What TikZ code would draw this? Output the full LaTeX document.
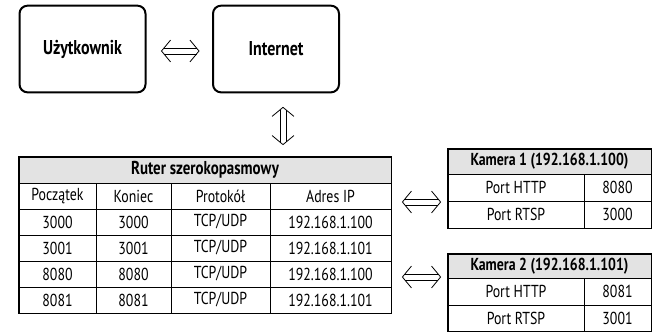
\documentclass[tikz,border=0pt]{standalone}
\usepackage{fontspec}
\setmainfont{PT Sans}[FakeStretch=0.8]
\usetikzlibrary{calc}
\newlength\arrA \setlength\arrA{6.8pt}
\newlength\arrB \setlength\arrB{8.2pt}
\newlength\arrH \setlength\arrH{2.2pt}
\newlength\arrC \setlength\arrC{1.8pt}
\newcommand\dblarrow[2]{%
  \draw[arrline] ($(#1)!\arrA!(#2)!\arrB!90:(#2)$) -- (#1) -- ($(#1)!\arrA!(#2)!\arrB!-90:(#2)$);
  \draw[arrline] ($(#2)!\arrA!(#1)!\arrB!90:(#1)$) -- (#2) -- ($(#2)!\arrA!(#1)!\arrB!-90:(#1)$);
  \draw[arrline] ($(#1)!\arrC!(#2)!\arrH!90:(#2)$) -- ($(#2)!\arrC!(#1)!\arrH!-90:(#1)$);
  \draw[arrline] ($(#1)!\arrC!(#2)!\arrH!-90:(#2)$) -- ($(#2)!\arrC!(#1)!\arrH!90:(#1)$);
}
\tikzset{
  arrline/.style={line width=0.6pt, line join=miter},
  bigbox/.style={draw, line width=1.5pt, rounded corners=6pt, minimum width=94.5pt, minimum height=65pt, inner sep=0pt, font=\bfseries\fontsize{15}{17}\selectfont},
  cell/.style={draw, line width=0.6pt, inner sep=0pt, font=\fontsize{13}{15}\selectfont},
  hcell/.style={cell, fill=black!11, font=\bfseries\fontsize{13}{15}\selectfont},
  outer/.style={line width=1.3pt},
}
\begin{document}
\begin{tikzpicture}[x=0.75pt,y=-0.75pt]
\useasboundingbox (0,0) rectangle (652,333);
% top boxes
\node[bigbox] (user) at (82.5,49) {Użytkownik};
\node[bigbox] (internet) at (276,49) {Internet};
% router table
\node[hcell, minimum width=279pt, minimum height=19.5pt, font=\bfseries\fontsize{14}{16}\selectfont] (rh) at (205,170) {Ruter szerokopasmowy};
\foreach \r/\y/\a/\b/\c/\d in {0/196/Początek/Koniec/Protokół/Adres IP,
  1/222/3000/3000/TCP\slash UDP/192.168.1.100,
  2/248/3001/3001/TCP\slash UDP/192.168.1.101,
  3/274/8080/8080/TCP\slash UDP/192.168.1.100,
  4/300/8081/8081/TCP\slash UDP/192.168.1.101}{
  \node[cell, minimum width=57.75pt, minimum height=19.5pt] (r\r a) at (57.5,\y) {\a};
  \node[cell, minimum width=56.25pt, minimum height=19.5pt] (r\r b) at (133.5,\y) {\b};
  \node[cell, minimum width=74.25pt, minimum height=19.5pt] (r\r c) at (220.5,\y) {\c};
  \node[cell, minimum width=90.75pt, minimum height=19.5pt] (r\r d) at (330.5,\y) {\d};
}
\draw[outer] (rh.north west) rectangle (r4d.south east);
% camera 1
\node[hcell, minimum width=152.25pt, minimum height=18.75pt] (c1h) at (549.5,161.5) {Kamera 1 (192.168.1.100)};
\node[cell, minimum width=102pt, minimum height=20.25pt] (c1a) at (516,187.5) {Port HTTP};
\node[cell, minimum width=50.25pt, minimum height=20.25pt] (c1b) at (617.5,187.5) {8080};
\node[cell, minimum width=102pt, minimum height=20.25pt] (c1c) at (516,214.5) {Port RTSP};
\node[cell, minimum width=50.25pt, minimum height=20.25pt] (c1d) at (617.5,214.5) {3000};
\draw[outer] (c1h.north west) rectangle (c1d.south east);
% camera 2
\node[hcell, minimum width=152.25pt, minimum height=18pt] (c2h) at (549.5,266) {Kamera 2 (192.168.1.101)};
\node[cell, minimum width=102pt, minimum height=20.25pt] (c2a) at (516,291.5) {Port HTTP};
\node[cell, minimum width=50.25pt, minimum height=20.25pt] (c2b) at (617.5,291.5) {8081};
\node[cell, minimum width=102pt, minimum height=19.5pt] (c2c) at (516,318) {Port RTSP};
\node[cell, minimum width=50.25pt, minimum height=19.5pt] (c2d) at (617.5,318) {3001};
\draw[outer] (c2h.north west) rectangle (c2d.south east);
% arrows
\path (user.east) ++(15,2) coordinate (a1s);
\path (internet.west) ++(-13,2) coordinate (a1e);
\dblarrow{a1s}{a1e}
\path (internet.south) ++(7,14) coordinate (a2s);
\path (rh.north) ++(78,-12) coordinate (a2e);
\dblarrow{a2s}{a2e}
\path (r1d.east) ++(11,-20) coordinate (a3s);
\path (c1c.west) ++(-7,-12.5) coordinate (a3e);
\dblarrow{a3s}{a3e}
\path (r4d.east) ++(11,-23) coordinate (a4s);
\path (c2a.west) ++(-7,-14.5) coordinate (a4e);
\dblarrow{a4s}{a4e}
\end{tikzpicture}
\end{document}
